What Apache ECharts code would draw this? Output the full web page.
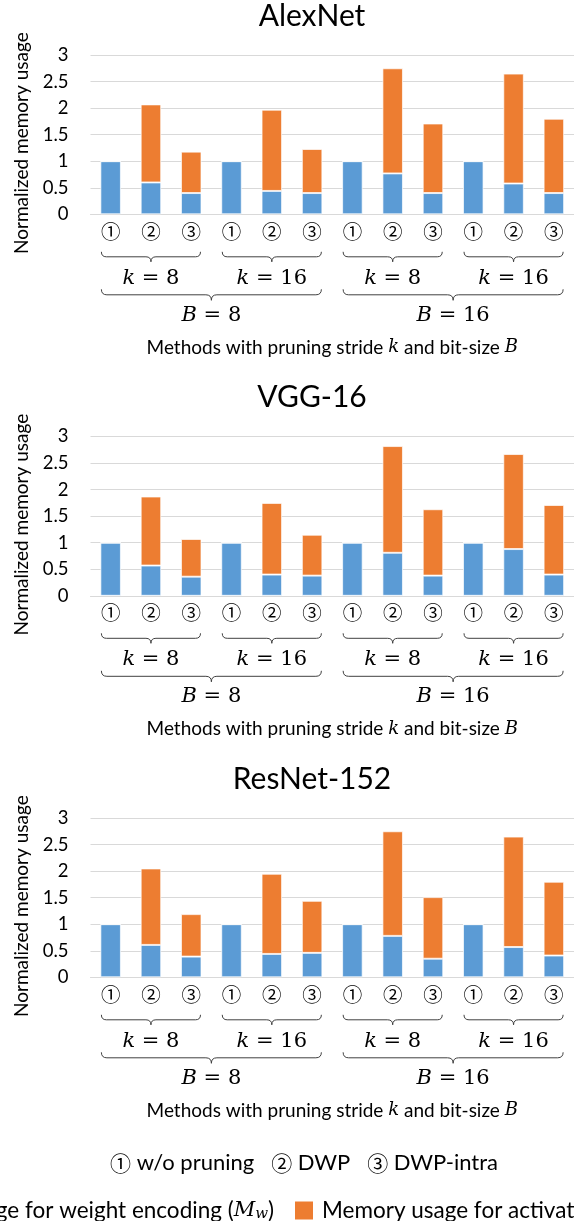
<!DOCTYPE html>
<html>
<head>
<meta charset="utf-8">
<script src="https://cdn.jsdelivr.net/npm/echarts@6/dist/echarts.min.js"></script>
<style>
  html, body { margin: 0; padding: 0; background: #fff; overflow: hidden; }
  #chart { width: 574px; height: 1221px; }
</style>
</head>
<body>
<div id="chart"></div>
<script>
// Networks shown, one panel each
const networks = ['AlexNet', 'VGG-16', 'ResNet-152'];

// Method markers under each bar: ① w/o pruning, ② DWP, ③ DWP-intra
const methodLabels = ['①', '②', '③', '①', '②', '③', '①', '②', '③', '①', '②', '③'];

// Normalized memory for weight encoding (M_w) and for activations (M_a)
const alexWeight = [1, 0.60, 0.40, 1, 0.44, 0.40, 1, 0.77, 0.40, 1, 0.58, 0.40];
const alexAct    = [0, 1.47, 0.78, 0, 1.53, 0.83, 0, 1.98, 1.31, 0, 2.07, 1.40];
const vggWeight  = [1, 0.57, 0.36, 1, 0.40, 0.38, 1, 0.81, 0.38, 1, 0.88, 0.40];
const vggAct     = [0, 1.30, 0.71, 0, 1.35, 0.77, 0, 2.01, 1.25, 0, 1.79, 1.31];
const resWeight  = [1, 0.61, 0.39, 1, 0.44, 0.46, 1, 0.78, 0.35, 1, 0.57, 0.41];
const resAct     = [0, 1.44, 0.80, 0, 1.51, 0.98, 0, 1.97, 1.16, 0, 2.08, 1.39];

// Grouping of the 12 bars: pruning stride k, then bit-size B
const strideSpans  = [[0, 2], [3, 5], [6, 8], [9, 11]];
const strideValues = ['8', '16', '8', '16'];
const bitSpans     = [[0, 5], [6, 11]];
const bitValues    = ['8', '16'];

// Y axis ticks
const yMin = 0, yMax = 3, yStep = 0.5;

const weightName = 'Memory usage for weight encoding (Mw)';
const actName = 'Memory usage for activations (Ma)';

const weightSets = [alexWeight, vggWeight, resWeight];
const actSets = [alexAct, vggAct, resAct];

// Layout
const PANEL_STEP = 381.5;
const PLOT_TOP = 55;
const PLOT_H = 159.3;
const PLOT_LEFT = 90.5;
const PLOT_RIGHT = -6;

const TEXT_FONT = 'Lato, "Noto Sans", sans-serif';
const CIRCLE_FONT = '"Noto Sans CJK JP", sans-serif';
const MATH_FONT = '"DejaVu Serif", serif';
const BLUE = '#5B9BD5';
const ORANGE = '#ED7D31';
const GRID_GRAY = '#D9D9D9';

// Brace rows below the axis: offsets from the axis line (px)
const BRACE_ROWS = [
  { top: 37.5, h: 10, label: 64, sym: 'k', values: strideValues },
  { top: 75, h: 11, label: 101, sym: 'B', values: bitValues }
];

const mathRich = {
  it: { fontFamily: MATH_FONT, fontStyle: 'italic', fontSize: 21, color: '#000' },
  rm: { fontFamily: MATH_FONT, fontSize: 21, color: '#000' }
};

function braceData() {
  const rows = [];
  strideSpans.forEach((s, i) => rows.push([s[0], s[1], 0, i]));
  bitSpans.forEach((s, i) => rows.push([s[0], s[1], 1, i]));
  return rows;
}

function renderBrace(params, api) {
  const start = api.value(0);
  const end = api.value(1);
  const row = BRACE_ROWS[api.value(2)];
  const which = api.value(3);
  const band = api.size([1, 0])[0];
  const axisY = api.coord([start, 0])[1];
  const x0 = api.coord([start, 0])[0] - band * 0.23;
  const x1 = api.coord([end, 0])[0] + band * 0.23;
  const xm = (x0 + x1) / 2;
  const r = row.h / 2;
  const t = axisY + row.top;
  const d = 'M' + x0 + ',' + t +
    'Q' + x0 + ',' + (t + r) + ' ' + (x0 + r) + ',' + (t + r) +
    'L' + (xm - r) + ',' + (t + r) +
    'Q' + xm + ',' + (t + r) + ' ' + xm + ',' + (t + 2 * r) +
    'Q' + xm + ',' + (t + r) + ' ' + (xm + r) + ',' + (t + r) +
    'L' + (x1 - r) + ',' + (t + r) +
    'Q' + x1 + ',' + (t + r) + ' ' + x1 + ',' + t;
  return {
    type: 'group',
    children: [
      {
        type: 'path',
        shape: { pathData: d, x: x0, y: t, width: x1 - x0, height: 2 * r },
        style: { fill: 'none', stroke: '#404040', lineWidth: 1 }
      },
      {
        type: 'text',
        x: xm,
        y: axisY + row.label,
        style: {
          text: '{it|' + row.sym + '}{rm| = ' + row.values[which] + '}',
          rich: mathRich,
          align: 'center',
          verticalAlign: 'middle'
        }
      }
    ]
  };
}

const titles = [], grids = [], xAxes = [], yAxes = [], series = [];

networks.forEach((net, i) => {
  const top = PLOT_TOP + PANEL_STEP * i;
  titles.push({
    text: net,
    left: 312,
    top: top - 54,
    textAlign: 'center',
    padding: 0,
    textStyle: { fontFamily: TEXT_FONT, fontSize: 30, fontWeight: 'normal', color: '#000' }
  });
  grids.push({ left: PLOT_LEFT, right: PLOT_RIGHT, top: top, height: PLOT_H });
  xAxes.push({
    type: 'category',
    gridIndex: i,
    data: methodLabels,
    axisLine: { lineStyle: { color: GRID_GRAY, width: 1 } },
    axisTick: { show: false },
    axisLabel: {
      interval: 0,
      margin: 7,
      fontFamily: CIRCLE_FONT,
      fontSize: 19.5,
      lineHeight: 20,
      color: '#000'
    },
    name: 'Methods with pruning stride {m|k} and bit-size {m|B}',
    nameLocation: 'middle',
    nameGap: 124,
    nameTextStyle: {
      fontFamily: TEXT_FONT,
      fontSize: 19,
      color: '#000',
      rich: { m: { fontFamily: MATH_FONT, fontStyle: 'italic', fontSize: 18, color: '#000' } }
    }
  });
  yAxes.push({
    type: 'value',
    gridIndex: i,
    min: yMin,
    max: yMax,
    interval: yStep,
    axisLine: { show: false },
    axisTick: { show: false },
    splitLine: { lineStyle: { color: GRID_GRAY, width: 1 } },
    axisLabel: { margin: 22, fontFamily: TEXT_FONT, fontSize: 18.5, color: '#000' },
    name: 'Normalized memory usage',
    nameLocation: 'middle',
    nameRotate: 90,
    nameGap: 59,
    nameTextStyle: { fontFamily: TEXT_FONT, fontSize: 19, color: '#000', padding: [0, 17, 0, 0] }
  });
  const barStyle = (c) => ({ color: c, borderColor: 'rgba(255,255,255,0.7)', borderWidth: 1 });
  series.push({
    name: weightName,
    type: 'bar',
    xAxisIndex: i,
    yAxisIndex: i,
    stack: 'mem' + i,
    barWidth: '51%',
    itemStyle: barStyle(BLUE),
    data: weightSets[i]
  });
  series.push({
    name: actName,
    type: 'bar',
    xAxisIndex: i,
    yAxisIndex: i,
    stack: 'mem' + i,
    barWidth: '51%',
    itemStyle: barStyle(ORANGE),
    data: actSets[i]
  });
  series.push({
    type: 'custom',
    xAxisIndex: i,
    yAxisIndex: i,
    silent: true,
    clip: false,
    encode: { x: 0, y: 2 },
    renderItem: renderBrace,
    data: braceData()
  });
});

const legendText = {
  fontFamily: TEXT_FONT,
  fontSize: 22.5,
  color: '#000',
  padding: [0, 0, 0, 4],
  rich: {
    m: { fontFamily: MATH_FONT, fontStyle: 'italic', fontSize: 21, color: '#000' },
    s: { fontFamily: MATH_FONT, fontStyle: 'italic', fontSize: 15, color: '#000', verticalAlign: 'bottom', padding: [8, 0, 0, 0] }
  }
};
const legendFormat = (name) => name === weightName
  ? 'Memory usage for weight encoding ({m|M}{s|w})'
  : 'Memory usage for activations ({m|M}{s|a})';

const chart = echarts.init(document.getElementById('chart'), null, { renderer: 'canvas' });
chart.setOption({
  animation: false,
  backgroundColor: '#fff',
  title: titles,
  grid: grids,
  xAxis: xAxes,
  yAxis: yAxes,
  series: series,
  legend: [
    {
      data: [weightName],
      right: 300,
      top: 1199,
      padding: 0,
      icon: 'rect',
      itemWidth: 18,
      itemHeight: 18,
      itemStyle: { borderWidth: 0 },
      selectedMode: false,
      formatter: legendFormat,
      textStyle: legendText
    },
    {
      data: [actName],
      left: 295,
      top: 1199,
      padding: 0,
      icon: 'rect',
      itemWidth: 18,
      itemHeight: 18,
      itemStyle: { borderWidth: 0 },
      selectedMode: false,
      formatter: legendFormat,
      textStyle: legendText
    }
  ],
  graphic: [
    {
      type: 'text',
      x: 304,
      y: 1163,
      style: {
        text: '{c|①} w/o pruning   {c|②} DWP   {c|③} DWP-intra',
        fontFamily: TEXT_FONT,
        fontSize: 22,
        fill: '#000',
        align: 'center',
        verticalAlign: 'middle',
        rich: { c: { fontFamily: CIRCLE_FONT, fontSize: 21, fill: '#000' } }
      }
    }
  ]
});
</script>
</body>
</html>
